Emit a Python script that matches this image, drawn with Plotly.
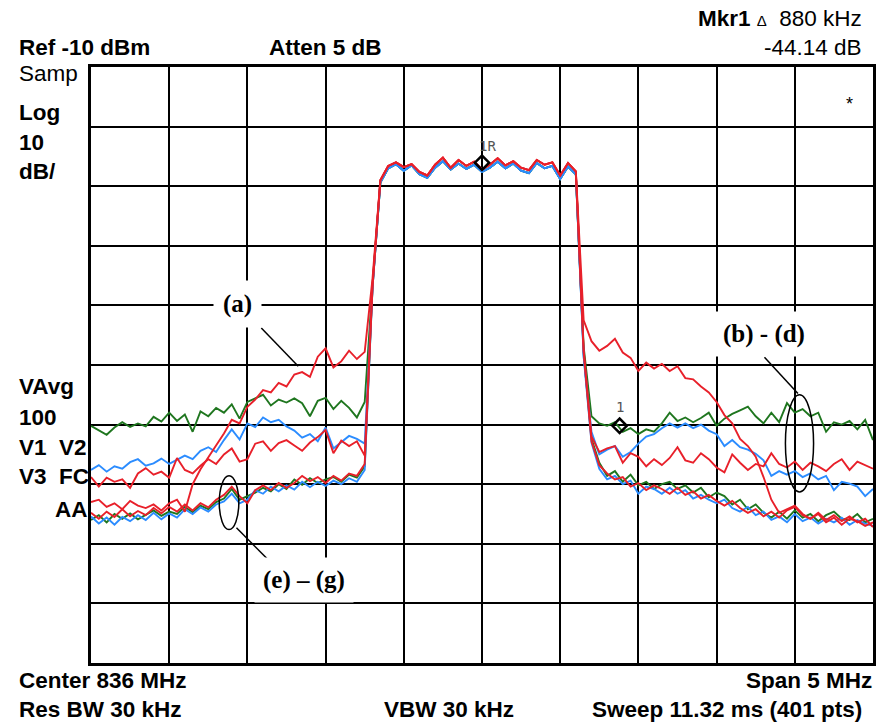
import plotly.graph_objects as go

# ---------------- data ----------------
# sweep grid: 101 points, 833.5 .. 838.5 MHz (50 kHz step)
freq = [round(833.5 + 0.05 * i, 2) for i in range(101)]

# in-band (shared) levels, dBm, indices 37..62
inband_red = [-29.0, -26.6, -26.0, -26.8, -26.3, -27.6, -28.2, -26.4, -25.2, -26.9,
              -25.6, -26.6, -25.9, -27.2, -26.4, -25.3, -26.5, -25.8, -26.9, -27.3,
              -25.6, -26.4, -26.0, -28.2, -26.1, -27.5]
inband_gb = [-29.4, -27.0, -26.3, -27.4, -26.5, -28.0, -28.6, -26.9, -25.8, -27.2,
             -26.2, -27.1, -26.4, -27.6, -26.9, -25.9, -27.0, -26.2, -27.4, -27.8,
             -26.1, -27.0, -26.6, -28.8, -26.7, -28.0]

# lower skirt (indices 0..36) and upper skirt (indices 63..100), dBm
green_upper_left = [-70.2, -71.0, -71.7, -70.5, -69.6, -70.4, -69.8, -70.3, -68.7, -69.5,
                    -68.0, -69.4, -68.3, -71.2, -67.8, -68.6, -67.2, -68.0, -66.6, -69.0,
                    -66.2, -65.6, -65.0, -66.8, -65.8, -66.3, -65.6, -66.4, -68.6, -66.0,
                    -65.5, -67.4, -66.0, -67.2, -68.8, -66.2, -46.5]
green_upper_right = [-57.0, -68.6, -69.8, -70.2, -69.6, -71.2, -70.6, -71.6, -70.8, -71.2,
                     -69.8, -68.0, -69.4, -68.8, -69.6, -68.9, -68.0, -70.2, -69.0, -68.2,
                     -67.6, -67.0, -68.6, -69.8, -68.0, -69.6, -66.4, -68.0, -67.4, -68.6,
                     -68.0, -71.2, -69.6, -70.0, -69.4, -70.8, -69.2, -72.6]

blue_upper_left = [-77.6, -76.8, -77.9, -77.0, -77.4, -76.3, -75.8, -76.9, -76.5, -75.7,
                   -76.6, -75.9, -75.2, -75.8, -74.4, -73.8, -74.6, -72.6, -70.8, -72.5,
                   -69.8, -70.4, -68.8, -69.6, -69.2, -70.3, -71.0, -72.2, -71.6, -72.8,
                   -70.5, -74.0, -73.0, -71.9, -72.4, -73.2, -47.0]
blue_upper_right = [-58.5, -71.2, -75.0, -74.2, -73.6, -75.4, -74.6, -73.2, -72.0, -71.6,
                    -70.6, -69.8, -70.5, -69.8, -70.6, -70.0, -71.0, -71.6, -73.6, -72.6,
                    -73.8, -74.2, -74.9, -76.0, -78.6, -77.8, -78.4, -77.8, -78.8, -78.2,
                    -79.2, -78.6, -81.0, -79.6, -79.9, -80.4, -82.0, -80.8]

red_mid_left = [-78.8, -80.4, -78.9, -79.6, -79.2, -80.6, -78.2, -77.3, -78.4, -77.9,
                -78.9, -75.6, -77.6, -78.2, -76.9, -75.8, -76.6, -75.0, -74.0, -76.2,
                -75.8, -73.2, -72.8, -74.4, -73.1, -72.6, -73.5, -74.4, -73.0, -72.1,
                -70.9, -74.8, -72.7, -73.6, -72.8, -75.2, -47.0]
red_mid_right = [-57.5, -72.0, -74.6, -74.0, -73.6, -76.4, -74.8, -75.4, -77.0, -75.8,
                 -76.8, -75.6, -73.8, -76.0, -76.4, -74.8, -75.8, -77.2, -78.0, -75.0,
                 -76.4, -77.6, -76.6, -77.0, -74.8, -76.6, -77.2, -76.2, -77.6, -76.4,
                 -77.0, -77.8, -76.6, -75.8, -77.6, -76.2, -76.8, -77.4]

a_left = [-83.0, -82.6, -83.8, -83.2, -84.2, -82.8, -83.6, -84.0, -83.4, -84.4,
          -83.2, -82.6, -84.6, -80.0, -77.5, -75.5, -73.5, -71.5, -69.2, -69.8,
          -67.0, -65.8, -64.2, -64.6, -63.0, -63.6, -61.6, -61.2, -62.0, -58.6,
          -57.2, -60.4, -59.4, -57.6, -59.0, -57.8, -45.5]
a_right = [-52.5, -56.0, -57.6, -56.8, -55.6, -57.9, -58.8, -61.0, -59.6, -60.6,
           -59.8, -61.0, -60.2, -62.2, -62.4, -63.6, -64.6, -66.2, -68.4, -69.8,
           -72.4, -73.6, -75.4, -78.8, -82.6, -84.8, -84.2, -83.6, -85.0, -85.8,
           -84.8, -86.0, -85.2, -86.2, -85.4, -86.4, -85.8, -87.2]

green_lower_left = [-86.0, -85.2, -86.4, -85.0, -85.8, -84.9, -85.9, -85.1, -84.4, -85.3,
                    -84.6, -85.0, -83.8, -84.7, -83.6, -84.2, -83.0, -82.4, -80.8, -82.6,
                    -82.0, -81.4, -80.6, -81.2, -80.0, -80.8, -79.2, -80.1, -79.0, -79.8,
                    -79.2, -78.8, -79.6, -78.4, -78.9, -77.0, -47.0]
green_lower_right = [-58.0, -72.4, -76.4, -78.6, -77.8, -79.6, -78.4, -80.2, -79.6, -80.8,
                     -80.0, -79.6, -80.8, -80.2, -81.4, -80.6, -82.2, -81.4, -82.0, -83.4,
                     -82.6, -84.2, -83.4, -84.8, -85.6, -84.6, -85.8, -84.4, -85.6, -85.0,
                     -86.2, -85.2, -84.6, -85.8, -86.0, -85.0, -86.4, -85.8]

blue_lower_left = [-85.4, -86.6, -85.6, -86.8, -85.5, -86.2, -85.2, -86.0, -84.8, -85.9,
                   -84.9, -85.6, -84.2, -85.0, -83.9, -84.6, -83.4, -82.9, -81.6, -83.2,
                   -82.6, -81.0, -81.6, -80.4, -81.2, -80.2, -80.9, -79.6, -80.5, -79.6,
                   -80.3, -79.4, -80.0, -79.0, -79.6, -77.6, -47.0]
blue_lower_right = [-58.6, -73.0, -77.4, -79.2, -78.6, -80.0, -79.4, -81.6, -80.4, -80.8,
                    -81.6, -80.6, -81.6, -81.0, -82.4, -81.8, -82.6, -83.2, -82.6, -84.0,
                    -84.6, -83.8, -85.2, -84.6, -86.0, -85.4, -86.4, -85.0, -86.2, -85.6,
                    -86.6, -85.8, -86.4, -85.6, -86.8, -86.0, -86.6, -87.0]

red_lower_left = [-84.8, -85.8, -84.6, -85.5, -84.2, -85.4, -84.5, -85.2, -84.0, -84.9,
                  -83.8, -84.6, -83.4, -84.4, -83.2, -83.9, -82.6, -81.8, -80.4, -82.0,
                  -83.2, -81.0, -80.2, -81.0, -79.8, -80.6, -79.8, -78.6, -79.5, -78.8,
                  -79.8, -78.6, -79.4, -78.2, -78.6, -76.6, -46.5]
red_lower_right = [-57.8, -72.8, -76.8, -78.2, -79.2, -78.8, -80.4, -79.8, -81.0, -80.2,
                   -80.8, -81.6, -80.6, -81.8, -81.2, -82.4, -81.8, -82.8, -83.6, -82.8,
                   -84.0, -84.8, -84.2, -85.4, -84.6, -85.6, -84.4, -83.8, -85.2, -85.8,
                   -85.0, -86.4, -85.6, -86.8, -85.8, -86.2, -87.0, -86.4]

# markers
mkr_freq = [836.0, 836.88]
mkr_level = [-26.06, -70.2]
mkr_names = ["1R", "1"]

GREEN = "#1f761f"
BLUE = "#2b8cff"
RED = "#e8202a"

traces = [
    (green_upper_left, inband_gb, green_upper_right, GREEN),
    (green_lower_left, inband_gb, green_lower_right, GREEN),
    (blue_upper_left, inband_gb, blue_upper_right, BLUE),
    (blue_lower_left, inband_gb, blue_lower_right, BLUE),
    (red_mid_left, inband_red, red_mid_right, RED),
    (red_lower_left, inband_red, red_lower_right, RED),
    (a_left, inband_red, a_right, RED),
]

fig = go.Figure()
for left, mid, right, col in traces:
    y = left + mid + right
    assert len(y) == len(freq), len(y)
    fig.add_trace(go.Scatter(x=freq, y=y, mode="lines",
                             line=dict(color=col, width=1.9),
                             hoverinfo="skip", showlegend=False))

fig.add_trace(go.Scatter(x=mkr_freq, y=mkr_level, mode="markers",
                         marker=dict(symbol="diamond-open", size=11,
                                     color="black", line=dict(width=2.5, color="black")),
                         hoverinfo="skip", showlegend=False))

W, H = 878, 724
L, R, T, B = 91, 876, 67, 663


def px(x, y):
    return (x - L) / (R - L), (B - y) / (B - T)


SANS = "Liberation Sans, Arial, sans-serif"
SERIF = "Liberation Serif, Times New Roman, serif"
anns = []


def txt(text, x, y, anchor="left", size=22.5, family=SANS, color="black"):
    xp, yp = px(x, y)
    anns.append(dict(text=text, x=xp, y=yp, xref="paper", yref="paper",
                     xanchor=anchor, yanchor="middle", showarrow=False,
                     font=dict(family=family, size=size, color=color)))


txt("<b>Mkr1</b> <span style='font-size:15px'>Δ</span>  880 kHz", 867, 19, "right")
txt("<b>Ref -10 dBm</b>", 17, 48)
txt("<b>Atten 5 dB</b>", 268, 48)
txt("-44.14 dB", 867, 48, "right")
txt("Samp", 17, 74)
txt("<b>Log</b>", 17, 112)
txt("<b>10</b>", 17, 142)
txt("<b>dB/</b>", 17, 171)
txt("<b>VAvg</b>", 17, 386)
txt("<b>100</b>", 17, 417)
txt("<b>V1&nbsp;&nbsp;V2</b>", 17, 447)
txt("<b>V3&nbsp;&nbsp;FC</b>", 17, 477)
txt("<b>AA</b>", 90, 509, "right")
txt("<b>Center 836 MHz</b>", 17, 680)
txt("<b>Span 5 MHz</b>", 877, 680, "right")
txt("<b>Res BW 30 kHz</b>", 17, 709)
txt("<b>VBW 30 kHz</b>", 383, 709)
txt("<b>Sweep 11.32 ms (401 pts)</b>", 867, 709, "right")


# in-plot annotations (data coordinates)
def dann(text, x, y, size, family, pad=0, bg=None, color="black", xanchor="center"):
    d = dict(text=text, x=x, y=y, xref="x", yref="y", showarrow=False,
             xanchor=xanchor, yanchor="middle",
             font=dict(family=family, size=size, color=color), borderpad=pad)
    if bg:
        d["bgcolor"] = bg
    anns.append(d)


dann("<b>(a)</b>", 834.436, -49.8, 25, SERIF, pad=9, bg="white")
dann("<b>(b) - (d)</b>", 837.80, -54.8, 25, SERIF, pad=8, bg="white")
dann("<b>(e) – (g)</b>", 834.865, -96.1, 25, SERIF, pad=8, bg="white")
dann(mkr_names[0], 836.035, -23.3, 14, "DejaVu Sans Mono", color="#555555")
dann(mkr_names[1], 836.88, -67.0, 14, "DejaVu Sans Mono", color="#555555")
dann("*", 838.35, -16.2, 18, SANS)

shapes = [
    dict(type="line", xref="x", yref="y", x0=834.589, y0=-53.8, x1=834.825, y1=-60.2,
         line=dict(color="black", width=1.5)),
    dict(type="line", xref="x", yref="y", x0=837.806, y0=-58.7, x1=838.02, y1=-64.8,
         line=dict(color="black", width=1.5)),
    dict(type="circle", xref="x", yref="y", x0=837.94, x1=838.12, y0=-65.0, y1=-81.3,
         line=dict(color="black", width=1.5)),
    dict(type="line", xref="x", yref="y", x0=834.43, y0=-87.3, x1=834.66, y1=-93.4,
         line=dict(color="black", width=1.5)),
    dict(type="circle", xref="x", yref="y", x0=834.32, x1=834.445, y0=-78.6, y1=-87.6,
         line=dict(color="black", width=1.5)),
]

fig.update_layout(
    width=W, height=H,
    margin=dict(l=L, r=W - R, t=T, b=H - B, pad=0),
    paper_bgcolor="white", plot_bgcolor="white",
    annotations=anns, shapes=shapes,
    xaxis=dict(range=[833.5, 838.5], tick0=833.5, dtick=0.5, showticklabels=False,
               ticks="", showgrid=True, gridcolor="black", gridwidth=1.6,
               showline=True, linecolor="black", linewidth=3, mirror=True,
               zeroline=False, fixedrange=True),
    yaxis=dict(range=[-110, -10], tick0=-110, dtick=10, showticklabels=False,
               ticks="", showgrid=True, gridcolor="black", gridwidth=1.6,
               showline=True, linecolor="black", linewidth=3, mirror=True,
               zeroline=False, fixedrange=True),
)

fig.write_html("out.html")
